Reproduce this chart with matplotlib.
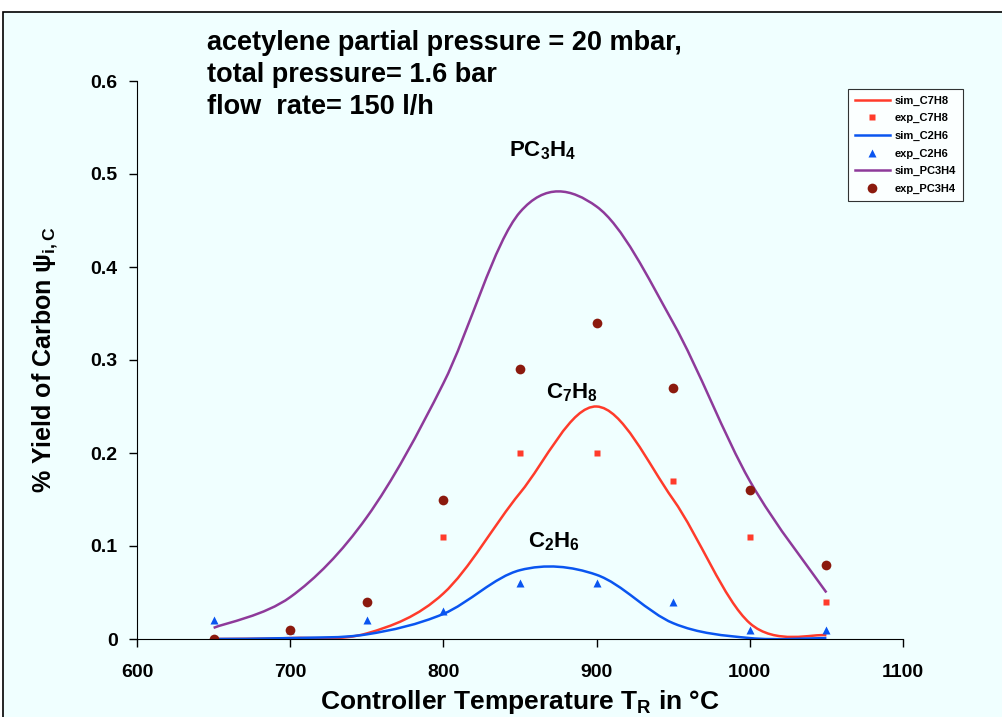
import matplotlib
matplotlib.use('Agg')
import matplotlib.pyplot as plt
import numpy as np
from matplotlib.patches import Rectangle, PathPatch
from matplotlib.path import Path

plt.rcParams['font.family'] = ['Liberation Sans', 'DejaVu Sans']
plt.rcParams['font.weight'] = 'bold'
plt.rcParams['mathtext.fontset'] = 'custom'
plt.rcParams['mathtext.rm'] = 'Liberation Sans:bold'
plt.rcParams['mathtext.bf'] = 'Liberation Sans:bold'
plt.rcParams['mathtext.it'] = 'Liberation Sans:bold'
plt.rcParams['mathtext.default'] = 'bf'

# simulated curves, excel-style smoothed lines
sim_T = [650, 700, 750, 800, 850, 900, 950, 1000, 1050]
sim_C7H8 = [0.0, 0.001, 0.006, 0.049, 0.157, 0.25, 0.15, 0.017, 0.004]
sim_C2H6 = [0.0, 0.001, 0.005, 0.027, 0.074, 0.069, 0.017, 0.001, 0.001]
sim_PC3H4 = [0.012, 0.045, 0.131, 0.275, 0.459, 0.465, 0.34, 0.17, 0.05]

# experiments
exp_T = [650, 700, 750, 800, 850, 900, 950, 1000, 1050]
exp_C7H8 = [np.nan, np.nan, np.nan, 0.11, 0.2, 0.2, 0.17, 0.11, 0.04]
exp_C2H6 = [0.02, 0.01, 0.02, 0.03, 0.06, 0.06, 0.04, 0.01, 0.01]
exp_PC3H4 = [0.0, 0.01, 0.04, 0.15, 0.29, 0.34, 0.27, 0.16, 0.08]

c_red = '#FF3B2B'
c_blue = '#0A55F0'
c_purple = '#8E3A9A'
c_brown = '#8B1A0E'
bg = '#F0FFFF'


def smooth_path(x, y):
    # bezier through the points, like a smoothed excel line
    p = np.column_stack([x, y]).astype(float)
    n = len(p)
    verts = [p[0]]
    codes = [Path.MOVETO]
    for i in range(n - 1):
        prev = p[i - 1] if i > 0 else p[i]
        nxt = p[i + 2] if i + 2 < n else p[i + 1]
        c1 = p[i] + (p[i + 1] - prev) / 6
        c2 = p[i + 1] - (nxt - p[i]) / 6
        verts += [c1, c2, p[i + 1]]
        codes += [Path.CURVE4] * 3
    return Path(verts, codes)


fig = plt.figure(figsize=(10.02, 7.17), dpi=100)
fig.patch.set_facecolor('white')
fig.patches.append(Rectangle((3 / 1002, -0.01), 1.01, 1 - 12 / 717 + 0.01, transform=fig.transFigure,
                             facecolor=bg, edgecolor='black', linewidth=1.2, zorder=-5))

ax = fig.add_axes([137 / 1002, 1 - 639 / 717, 766 / 1002, 558 / 717])
ax.set_facecolor('none')

series = [(sim_C7H8, c_red, 'sim_C7H8', exp_C7H8, 's', 5, c_red, 'exp_C7H8'),
          (sim_C2H6, c_blue, 'sim_C2H6', exp_C2H6, '^', 6, c_blue, 'exp_C2H6'),
          (sim_PC3H4, c_purple, 'sim_PC3H4', exp_PC3H4, 'o', 7, c_brown, 'exp_PC3H4')]
for sim, col, lab, exp, mk, ms, mcol, elab in series:
    ax.add_patch(PathPatch(smooth_path(sim_T, sim), fill=False, edgecolor=col, lw=1.8))
    ax.plot([], [], color=col, lw=1.8, label=lab)
    ax.plot(exp_T, exp, ls='none', marker=mk, ms=ms, color=mcol, mec='none', label=elab)

ax.set_xlim(600, 1100)
ax.set_ylim(0, 0.6)
ax.set_xticks([600, 700, 800, 900, 1000, 1100])
ax.set_yticks([0, 0.1, 0.2, 0.3, 0.4, 0.5, 0.6])
ax.set_yticklabels(['0', '0.1', '0.2', '0.3', '0.4', '0.5', '0.6'])
ax.spines['top'].set_visible(False)
ax.spines['right'].set_visible(False)
ax.tick_params(direction='out', length=6, width=1, labelsize=14, pad=8)
ax.tick_params(axis='x', pad=12)
for lab in ax.get_xticklabels() + ax.get_yticklabels():
    lab.set_fontweight('bold')

ax.set_xlabel(r'Controller Temperature T$_\mathregular{R}$ in °C', fontsize=19, fontweight='bold', labelpad=5)
ax.set_ylabel(r'% Yield of Carbon $\mathregular{\psi_{i,C}}$', fontsize=18, fontweight='bold', labelpad=22)

fig.text(207 / 1002, 1 - 30 / 717, 'acetylene partial pressure = 20 mbar,\ntotal pressure= 1.6 bar\nflow  rate= 150 l/h',
         fontsize=19.5, fontweight='bold', va='top', ha='left', linespacing=1.3)

ax.text(865, 0.525, r'PC$_3$H$_4$', fontsize=16, fontweight='bold', ha='center', va='center')
ax.text(884, 0.265, r'C$_7$H$_8$', fontsize=16, fontweight='bold', ha='center', va='center')
ax.text(872, 0.105, r'C$_2$H$_6$', fontsize=16, fontweight='bold', ha='center', va='center')

leg = ax.legend(loc='upper left', bbox_to_anchor=(848 / 1002, 1 - 89 / 717), bbox_transform=fig.transFigure,
                prop={'size': 8, 'weight': 'bold'}, frameon=True, fancybox=False, edgecolor='black',
                handlelength=3.2, labelspacing=0.68, borderpad=0.6, handletextpad=0.4, borderaxespad=0)
leg.get_frame().set_linewidth(0.8)
leg.get_frame().set_facecolor('white')

fig.savefig('out.png', dpi=100, facecolor=fig.get_facecolor())
